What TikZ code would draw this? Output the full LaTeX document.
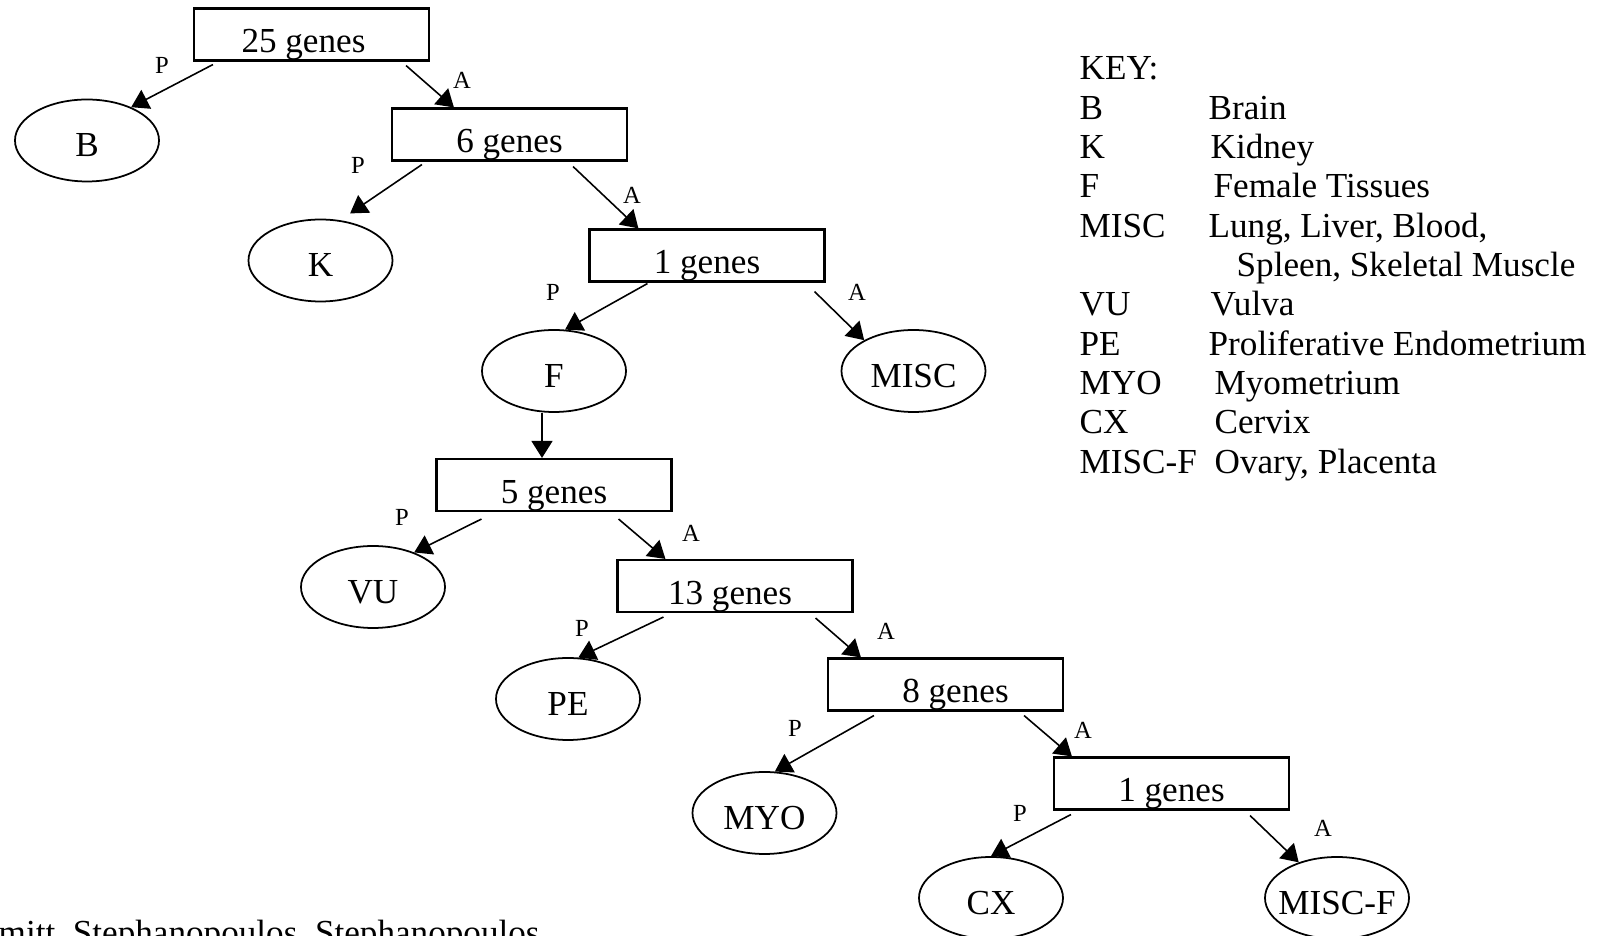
\documentclass[tikz,border=0pt]{standalone}
\usepackage{fontspec}
\setmainfont{Liberation Serif}
\usepackage{tikz}
\usetikzlibrary{arrows.meta,positioning,shapes.geometric}

\begin{document}
\begin{tikzpicture}[
    genebox/.style={rectangle, draw, line width=0.6pt, minimum width=2.35cm, minimum height=0.52cm, inner sep=0pt, text height=3.7mm, text depth=0pt},
    tissue/.style={ellipse, draw, line width=0.5pt, minimum width=1.44cm, minimum height=0.82cm, inner xsep=-1mm, inner ysep=0pt, text height=3.3mm, text depth=0pt},
    edgelbl/.style={font=\fontsize{7}{8}\selectfont, inner sep=0pt},
    keytext/.style={anchor=north west, inner sep=0pt, font=\fontsize{10}{11.2}\selectfont},
    arrow/.style={-{Triangle[length=1.7mm,width=2.1mm]}, line width=0.45pt}
]
\clip (0,0) rectangle (16.01,-9.36);

% Gene boxes
\node[genebox] (g25) at (3.115,-0.345) {\hspace*{-1.6mm}25 genes};
\node[genebox] (g6) at (5.095,-1.345) {6 genes};
\node[genebox] (g1a) at (7.07,-2.555) {1 genes};
\node[genebox] (g5) at (5.54,-4.85) {5 genes};
\node[genebox] (g13) at (7.35,-5.86) {\hspace*{-1mm}13 genes};
\node[genebox] (g8) at (9.455,-6.845) {\hspace*{2mm}8 genes};
\node[genebox] (g1b) at (11.715,-7.835) {1 genes};

% Tissue nodes
\node[tissue] (B) at (0.87,-1.405) {B};
\node[tissue] (K) at (3.205,-2.605) {K};
\node[tissue] (F) at (5.54,-3.71) {F};
\node[tissue] (MISC) at (9.135,-3.71) {MISC};
\node[tissue] (VU) at (3.73,-5.87) {VU};
\node[tissue] (PE) at (5.68,-6.99) {PE};
\node[tissue] (MYO) at (7.645,-8.13) {MYO};
\node[tissue] (CX) at (9.91,-8.98) {CX};
\node[tissue] (MISCF) at (13.37,-8.98) {MISC-F};

% Present / absent splits
\draw[arrow] ([xshift=2mm,yshift=-0.3mm]g25.south west) -- (B.37);
\draw[arrow] ([xshift=-2.4mm,yshift=-0.4mm]g25.south east) -- ([xshift=6.3mm]g6.north west);
\draw[arrow, shorten >=1.2mm] ([xshift=3.1mm,yshift=-0.3mm]g6.south west) -- (K.64);
\draw[arrow] ([xshift=-5.5mm,yshift=-0.5mm]g6.south east) -- ([xshift=5mm]g1a.north west);
\draw[arrow] ([xshift=5.9mm,yshift=-0.1mm]g1a.south west) -- (F.75);
\draw[arrow] ([xshift=-1.1mm,yshift=-0.9mm]g1a.south east) -- (MISC.148);
\draw[arrow] ([xshift=-1.2mm]F.south) -- ([xshift=-1.2mm]g5.north);
\draw[arrow] ([xshift=4.6mm,yshift=-0.7mm]g5.south west) -- (VU.40);
\draw[arrow] ([xshift=-5.4mm,yshift=-0.7mm]g5.south east) -- ([xshift=4.9mm]g13.north west);
\draw[arrow] ([xshift=4.7mm,yshift=-0.4mm]g13.south west) -- (PE.76);
\draw[arrow] ([xshift=-3.8mm,yshift=-0.5mm]g13.south east) -- ([xshift=3.4mm]g8.north west);
\draw[arrow] ([xshift=4.7mm,yshift=-0.4mm]g8.south west) -- (MYO.76);
\draw[arrow] ([xshift=-4mm,yshift=-0.4mm]g8.south east) -- ([xshift=1.9mm]g1b.north west);
\draw[arrow] ([xshift=1.8mm,yshift=-0.4mm]g1b.south west) -- (CX.north);
\draw[arrow] ([xshift=-4mm,yshift=-0.5mm]g1b.south east) -- (MISCF.137);

% Edge labels
\node[edgelbl] (lp1) at (1.62,-0.65) {P};
\node[edgelbl] (la1) at (4.62,-0.80) {A};
\node[edgelbl] (lp2) at (3.58,-1.65) {P};
\node[edgelbl] (la2) at (6.32,-1.95) {A};
\node[edgelbl] (lp3) at (5.53,-2.92) {P};
\node[edgelbl] (la3) at (8.57,-2.92) {A};
\node[edgelbl] (lp4) at (4.02,-5.17) {P};
\node[edgelbl] (la4) at (6.91,-5.33) {A};
\node[edgelbl] (lp5) at (5.82,-6.28) {P};
\node[edgelbl] (la5) at (8.86,-6.31) {A};
\node[edgelbl] (lp6) at (7.95,-7.28) {P};
\node[edgelbl] (la6) at (10.83,-7.30) {A};
\node[edgelbl] (lp7) at (10.20,-8.13) {P};
\node[edgelbl] (la7) at (13.23,-8.28) {A};

% Key
\node[keytext] (key) at (10.79,-0.514) {%
\begin{tabular}{@{}p{1.29cm}@{}l@{}}
KEY: & \\
B & Brain \\
K & \hspace{0.2mm}Kidney \\
F & \hspace{0.5mm}Female Tissues \\
MISC & Lung, Liver, Blood, \\
 & \hspace{2.8mm}Spleen, Skeletal Muscle \\
VU & \hspace{0.2mm}Vulva \\
PE & Proliferative Endometrium \\
MYO & \hspace{0.6mm}Myometrium \\
CX & \hspace{0.6mm}Cervix \\
MISC-F & \hspace{0.6mm}Ovary, Placenta
\end{tabular}};

% Caption (cut off by the frame)
\node[anchor=base west, inner sep=0pt, font=\fontsize{10}{12}\selectfont] (authors) at (-0.02,-9.45) {mitt, Stephanopoulos, Stephanopoulos};

\end{tikzpicture}
\end{document}
